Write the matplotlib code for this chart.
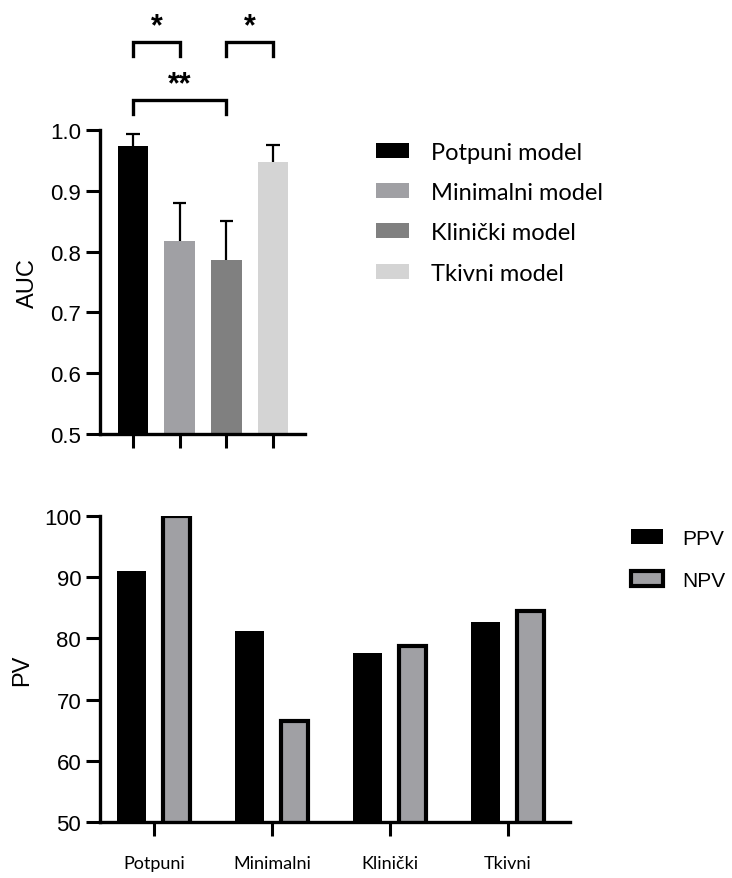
import numpy as np
import matplotlib
matplotlib.use("Agg")
from matplotlib import pyplot as plt
from matplotlib.patches import Patch

# AUC per model (top panel)
models = ["Potpuni model", "Minimalni model", "Klinički model", "Tkivni model"]
auc = [0.974, 0.818, 0.787, 0.947]
auc_err = [0.020, 0.062, 0.064, 0.028]
auc_colors = ["#000000", "#a0a0a4", "#808080", "#d4d4d4"]

# predictive values (bottom panel)
groups = ["Potpuni", "Minimalni", "Klinički", "Tkivni"]
ppv = [91.0, 81.2, 77.6, 82.7]
npv = [100.0, 66.5, 78.7, 84.5]

# significance brackets: (left bar, right bar, label)
sig = [(0, 1, "*"), (2, 3, "*"), (0, 2, "**")]

plt.rcParams['font.family'] = ['Liberation Sans', 'DejaVu Sans']

fig = plt.figure(figsize=(7.32, 8.79), dpi=100)

# ---- top panel ----
ax1 = fig.add_axes([0.1366, 0.5051, 0.28, 0.3458])
x = np.arange(len(models))
ax1.bar(x, auc, width=0.66, color=auc_colors, zorder=2)
# upper error bars only
tops = np.array(auc) + np.array(auc_err)
ax1.vlines(x, auc, tops, color='black', lw=1.6, zorder=3)
ax1.hlines(tops, x - 0.14, x + 0.14, color='black', lw=1.6, zorder=3)
ax1.set_ylim(0.5, 1.0)
ax1.set_xlim(-0.707, 3.685)
ax1.set_yticks([0.5, 0.6, 0.7, 0.8, 0.9, 1.0])
ax1.set_yticklabels(["0.5", "0.6", "0.7", "0.8", "0.9", "1.0"])
ax1.set_xticks(x)
ax1.set_xticklabels([])
ax1.set_ylabel("AUC", fontsize=17, labelpad=8)

# brackets drawn in axes-y units above the plot
bracket_y = {"*": 1.29, "**": 1.10}
for a, b, lab in sig:
    yb = bracket_y[lab]
    tr = ax1.get_xaxis_transform()
    ax1.plot([a, a, b, b], [yb - 0.046, yb, yb, yb - 0.046], color='black',
             lw=2.4, clip_on=False, transform=tr, solid_joinstyle='miter')
    ax1.text((a + b) / 2, yb + 0.003, lab, ha='center', va='bottom',
             fontsize=22, fontweight='bold', transform=tr)

handles1 = [Patch(facecolor=c, edgecolor='none') for c in auc_colors]
fig.legend(handles1, models, loc='upper left', bbox_to_anchor=(0.484, 0.862),
           frameon=False, prop={'family': ['Lato', 'DejaVu Sans'], 'size': 17},
           handlelength=1.4, handleheight=0.6, handletextpad=0.95, labelspacing=0.82)

# ---- bottom panel ----
ax2 = fig.add_axes([0.1366, 0.0637, 0.642, 0.348])
g = np.arange(len(groups))
ax2.bar(g - 0.19, ppv, width=0.245, color='black', zorder=2, label='PPV')
ax2.bar(g + 0.19, npv, width=0.23, color='#a0a0a4', edgecolor='black',
        linewidth=3, zorder=2, label='NPV')
ax2.set_ylim(50, 100)
ax2.set_xlim(-0.458, 3.525)
ax2.set_yticks([50, 60, 70, 80, 90, 100])
ax2.set_xticks(g)
ax2.set_xticklabels(groups, fontsize=13, family=['Lato', 'DejaVu Sans'])
ax2.set_ylabel("PV", fontsize=17, labelpad=8)
ax2.legend(loc='upper left', bbox_to_anchor=(1.09, 1.02), frameon=False,
           fontsize=15, handlelength=1.55, handleheight=0.7, handletextpad=0.9,
           labelspacing=1.12)

for ax in (ax1, ax2):
    for s in ("top", "right"):
        ax.spines[s].set_visible(False)
    for s in ("left", "bottom"):
        ax.spines[s].set_linewidth(2.4)
    ax.tick_params(axis='both', width=2.2, length=10, labelsize=16, direction='out')
ax2.tick_params(axis='x', labelsize=13, pad=14)

fig.savefig("out.png", dpi=100)
